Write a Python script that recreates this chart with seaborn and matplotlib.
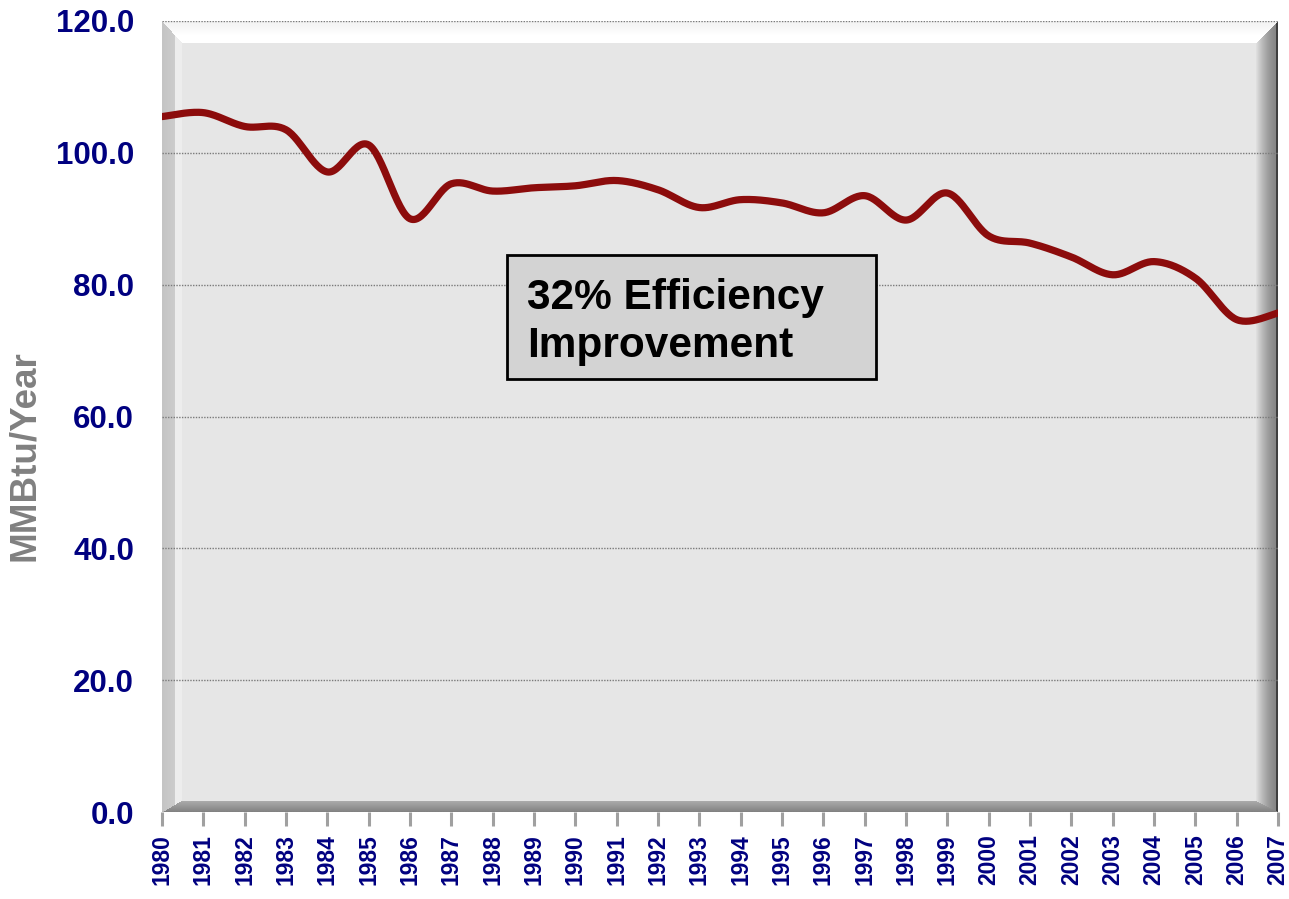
import numpy as np
import pandas as pd
import seaborn as sns
import matplotlib
matplotlib.use("Agg")
from matplotlib import pyplot as plt
from matplotlib.patches import Rectangle

# values
years = list(range(1980, 2008))
mmbtu = [105.5, 106.1, 104.0, 103.5, 97.1, 101.2, 90.0, 95.3, 94.2, 94.7,
         95.0, 95.8, 94.4, 91.7, 92.9, 92.4, 90.9, 93.5, 89.8, 93.9,
         87.4, 86.3, 84.2, 81.5, 83.5, 81.0, 74.7, 75.7]
y_ticks = [0, 20, 40, 60, 80, 100, 120]
y_tick_labels = [f"{v:.1f}" for v in y_ticks]
note = "32% Efficiency\nImprovement"

NAVY = "#000080"
LINE = "#8c0c0c"


def smooth_curve(xs, ys, n=30):
    """Excel style smoothed line: cubic bezier through the points"""
    xs = np.asarray(xs, float)
    ys = np.asarray(ys, float)
    px = np.concatenate([[xs[0]], xs, [xs[-1]]])
    py = np.concatenate([[ys[0]], ys, [ys[-1]]])
    t = np.linspace(0, 1, n)[:, None]
    out_x, out_y = [], []
    for i in range(1, len(px) - 2):
        p0 = np.array([px[i], py[i]])
        p3 = np.array([px[i + 1], py[i + 1]])
        p1 = p0 + (p3 - np.array([px[i - 1], py[i - 1]])) / 6
        p2 = p3 - (np.array([px[i + 2], py[i + 2]]) - p0) / 6
        pts = ((1 - t) ** 3) * p0 + 3 * ((1 - t) ** 2) * t * p1 \
            + 3 * (1 - t) * t ** 2 * p2 + t ** 3 * p3
        out_x.extend(pts[:, 0])
        out_y.extend(pts[:, 1])
    return np.array(out_x), np.array(out_y)


def frame_image(w, h, lw=20, tb=22, rw=23, bb=12):
    """3d looking chart wall, drawn as an rgb image"""
    img = np.full((h, w, 3), 0.902)
    r, c = np.mgrid[0:h, 0:w].astype(float)
    top = (r < tb) & (r <= c * tb / lw) & (r <= (w - c) * tb / rw)
    bottom = (h - r < bb) & (h - r <= c * bb / lw) & (h - r <= (w - c) * bb / rw)
    left = (c < lw) & ~top & ~bottom & (c * tb / lw < r + 1)
    right = (w - c < rw) & ~top & ~bottom
    g = r / tb
    shade_top = 0.95 + 0.05 * np.clip(g * 1.6, 0, 1)
    img[top] = shade_top[top][:, None]
    cl = c / lw
    shade_left = np.where(cl < 0.65, 0.77 + 0.05 * cl, 0.93)
    img[left] = shade_left[left][:, None]
    cr = (w - c) / rw
    shade_right = 0.53 + 0.37 * np.clip((cr - 0.1) / 0.9, 0, 1) ** 1.5
    shade_right = np.where(w - c <= 2, 0.25, shade_right)
    img[right] = shade_right[right][:, None]
    cb = (h - r) / bb
    shade_bottom = 0.50 + 0.18 * cb
    img[bottom] = shade_bottom[bottom][:, None]
    return img


sns.set_style("white")
plt.rcParams["font.family"] = ["Liberation Sans", "DejaVu Sans"]

fig = plt.figure(figsize=(12.89, 8.99), dpi=100)
rect = [162 / 1289, 1 - 812 / 899, 1116 / 1289, 791 / 899]

bg = fig.add_axes(rect, zorder=0)
bg.imshow(frame_image(1116, 791), aspect="auto", interpolation="bilinear")
bg.set_axis_off()

ax = fig.add_axes(rect, zorder=1)
ax.patch.set_alpha(0)

sx, sy = smooth_curve(years, mmbtu)
df = pd.DataFrame({"year": sx, "value": sy})
sns.lineplot(data=df, x="year", y="value", sort=False, color=LINE,
             linewidth=5.2, ax=ax, zorder=5)

ax.set_xlim(1980, 2007)
ax.set_ylim(0, 120)
ax.set_yticks(y_ticks)
ax.set_yticklabels(y_tick_labels)
ax.set_xticks(years)
ax.set_xticklabels([str(y) for y in years], rotation=90)

for s in ax.spines.values():
    s.set_visible(False)

ax.yaxis.grid(True, color="#7a7a7a", linestyle=(0, (1, 1)), linewidth=1)
ax.xaxis.grid(False)
ax.tick_params(axis="y", left=False, length=0, pad=20, labelsize=22.5,
               labelcolor=NAVY)
ax.tick_params(axis="x", bottom=True, length=10, width=2.2, color="#a0a0a0",
               pad=6, labelsize=16.5, labelcolor=NAVY)
for lab in ax.get_xticklabels() + ax.get_yticklabels():
    lab.set_fontweight("bold")

ax.set_xlabel("")
ax.set_ylabel("MMBtu/Year", fontsize=26.5, fontweight="bold", color="#808080")
ax.yaxis.set_label_coords(-120 / 1116, 0.45)

# annotation box
ax.add_patch(Rectangle((0.309, 0.547), 0.331, 0.157, transform=ax.transAxes,
                       facecolor="#d3d3d3", edgecolor="black", linewidth=2,
                       zorder=6))
ax.text(0.327, 0.675, note, transform=ax.transAxes, fontsize=30.5,
        fontweight="bold", color="black", va="top", ha="left",
        linespacing=1.25, zorder=7)

fig.savefig("out.png", dpi=100)
